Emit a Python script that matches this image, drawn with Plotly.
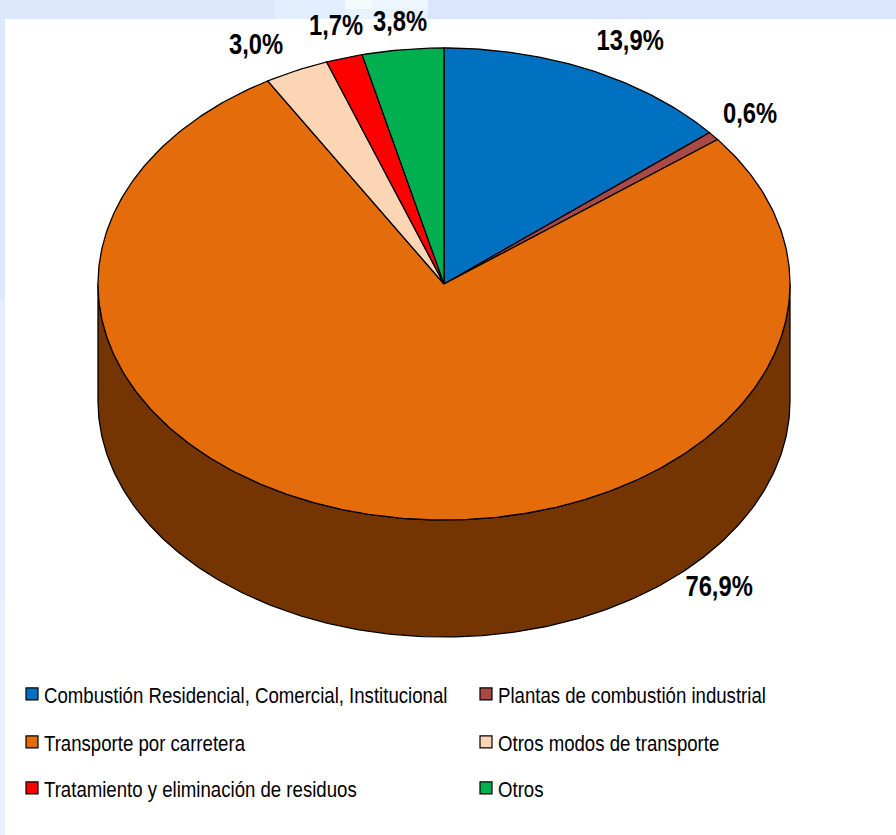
import numpy as np
import plotly.graph_objects as go

categories = ["Combustión Residencial, Comercial, Institucional", "Plantas de combustión industrial",
              "Transporte por carretera", "Otros modos de transporte",
              "Tratamiento y eliminación de residuos", "Otros"]
values = [13.9, 0.6, 76.9, 3.0, 1.7, 3.8]
colors = ["#0070C0", "#A94A47", "#E46C0A", "#FCD5B5", "#FF0000", "#00B050"]
wall_color = "#743503"
label_pos = [(630, 40), (750, 113), (719, 586), (256, 44), (336, 25), (400, 21)]

FONT = "Liberation Sans, Arial, sans-serif"
CX, CY, RX, RY, DEPTH = 444, 284, 346, 236, 117


def pt(a, dy=0):
    return CX + RX * np.sin(a), CY - RY * np.cos(a) + dy


fig = go.Figure()

# side wall (front half of the cake)
a = np.linspace(np.pi / 2, 3 * np.pi / 2, 240)
x1, y1 = pt(a)
x2, y2 = pt(a[::-1], DEPTH)
fig.add_trace(go.Scatter(x=np.r_[x1, x2, x1[0]], y=np.r_[y1, y2, y1[0]], mode="lines", fill="toself",
                         fillcolor=wall_color, line=dict(color="black", width=1.3),
                         showlegend=False, hoverinfo="skip"))

# top slices
edges = np.cumsum([0] + values) / sum(values) * 2 * np.pi
for i, (name, col) in enumerate(zip(categories, colors)):
    a = np.linspace(edges[i], edges[i + 1], max(int((edges[i + 1] - edges[i]) * 80), 4))
    x, y = pt(a)
    fig.add_trace(go.Scatter(x=np.r_[CX, x, CX], y=np.r_[CY, y, CY], mode="lines", fill="toself",
                             fillcolor=col, line=dict(color="black", width=1.3),
                             showlegend=False, hoverinfo="text", text=name))

# one legend per entry, so the two columns and three rows sit where the reference has them
legend_ids = ["legend", "legend2", "legend3", "legend4", "legend5", "legend6"]
for i, (name, col) in enumerate(zip(categories, colors)):
    fig.add_trace(go.Scatter(x=[None], y=[None], mode="markers", name=name,
                             marker=dict(symbol="square", size=12, color=col, line=dict(color="black", width=1.2)),
                             legend=legend_ids[i]))

for v, (lx, ly) in zip(values, label_pos):
    fig.add_annotation(x=lx, y=ly, text=f"{v:.1f}%".replace(".", ","), showarrow=False,
                       font=dict(family=FONT, size=29, color="black", weight=700))


def band(x0, x1, y0, y1, col):
    return dict(type="rect", xref="x", yref="y", x0=x0, x1=x1, y0=y0, y1=y1, fillcolor=col, line_width=0, layer="below")


shapes = [
    band(0, 5, 300, 600, "#e4eefd"),
    band(0, 5, 600, 835, "#eaf1fe"),
    band(275, 345, 0, 19, "#e2eefe"),
    band(345, 428, 0, 19, "#e8f2ff"),
    band(345, 372, 0, 9, "#f4faff"),
    band(372, 428, 0, 9, "#eef6ff"),
    band(428, 896, 0, 19, "#d9e6fb"),
    band(5, 896, 19, 835, "white"),
]

legend_common = dict(xanchor="left", yanchor="middle", bgcolor="rgba(0,0,0,0)",
                     font=dict(family=FONT, size=23, color="black"),
                     itemclick=False, itemdoubleclick=False)
col_x = [12, 466]
row_y = [694, 742, 788]
legends = {lid: dict(x=col_x[i % 2] / 896, y=1 - row_y[i // 2] / 835, **legend_common)
           for i, lid in enumerate(legend_ids)}

fig.update_layout(
    width=896, height=835, margin=dict(l=0, r=0, t=0, b=0),
    paper_bgcolor="#dce9fc", plot_bgcolor="rgba(0,0,0,0)",
    xaxis=dict(range=[0, 896], visible=False, fixedrange=True),
    yaxis=dict(range=[835, 0], visible=False, fixedrange=True),
    shapes=shapes,
    **legends,
)

# The reference uses a narrow face; no narrow family is installed, so scale the real text horizontally.
post = """
document.body.style.margin='0';
document.documentElement.style.overflow='hidden';
function squeeze(sel, k, tx){
  document.querySelectorAll(sel).forEach(function(t){
    if(tx!==null){ t.setAttribute('x', tx); }
    var x = parseFloat(t.getAttribute('x')) || 0;
    t.setAttribute('transform', 'matrix(' + k + ',0,0,1,' + (x*(1-k)) + ',0)');
  });
}
function narrow(){
  squeeze('.legendtext,.legend2text,.legend3text,.legend4text,.legend5text,.legend6text', 0.81, 32);
  squeeze('.annotation-text', 0.82, null);
}
narrow(); setTimeout(narrow, 50); setTimeout(narrow, 300);
"""
fig.write_html("out.html", config={"displayModeBar": False}, post_script=post)
